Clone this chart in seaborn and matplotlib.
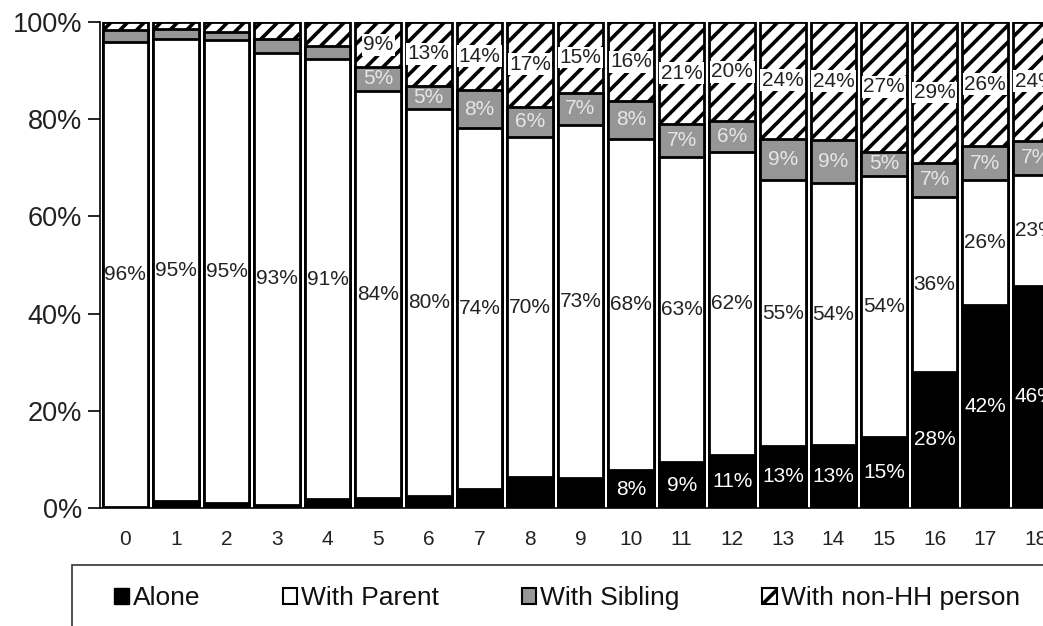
import matplotlib
matplotlib.use("Agg")
import matplotlib.pyplot as plt
import seaborn as sns
import pandas as pd
import numpy as np
from matplotlib.patches import Patch, Rectangle

ages = [str(a) for a in range(19)]
alone = [0.3, 1.4, 1.0, 0.7, 1.8, 2.1, 2.5, 3.9, 6.3, 6.2, 7.8, 9.4, 11.0, 12.8, 12.9, 14.7, 28.0, 41.8, 45.7]
with_parent = [95.6, 95.0, 95.3, 93.0, 90.6, 83.8, 79.6, 74.2, 70.1, 72.6, 68.2, 62.8, 62.2, 54.6, 54.0, 53.6, 36.0, 25.7, 22.9]
with_sibling = [2.5, 2.2, 1.7, 2.9, 2.6, 4.8, 4.8, 7.9, 6.2, 6.6, 7.7, 6.8, 6.4, 8.6, 8.8, 5.0, 7.0, 6.9, 7.0]
with_nonhh = [1.6, 1.4, 2.0, 3.4, 5.0, 9.3, 13.1, 14.0, 17.4, 14.6, 16.3, 21.0, 20.4, 24.0, 24.3, 26.7, 29.0, 25.6, 24.4]
series_names = ["Alone", "With Parent", "With Sibling", "With non-HH person"]
y_ticks = [0, 20, 40, 60, 80, 100]

sns.set_theme(style="white")
plt.rcParams["font.family"] = ["Liberation Sans", "DejaVu Sans"]
plt.rcParams["hatch.linewidth"] = 2.6

df = pd.DataFrame({"age": ages, "alone": alone, "parent": with_parent,
                   "sibling": with_sibling, "nonhh": with_nonhh})
df["c1"] = df["alone"]
df["c2"] = df["c1"] + df["parent"]
df["c3"] = df["c2"] + df["sibling"]
df["c4"] = df["c3"] + df["nonhh"]

fig = plt.figure(figsize=(10.43, 6.26), dpi=100)
ax = fig.add_axes([100 / 1043, 118 / 626, 961 / 1043, 486 / 626])

common = dict(x="age", order=ages, ax=ax, width=0.9, saturation=1,
              edgecolor="black", linewidth=2.0, errorbar=None)
sns.barplot(data=df, y="c4", color="white", hatch="//", **common)
sns.barplot(data=df, y="c3", color="#969696", **common)
sns.barplot(data=df, y="c2", color="white", **common)
sns.barplot(data=df, y="c1", color="black", **common)

ax.set_xlim(-0.5, 18.5)
ax.set_ylim(0, 100)
ax.set_yticks(y_ticks)
ax.set_yticklabels([f"{t}%" for t in y_ticks], fontsize=19.5)
ax.set_xlabel("")
ax.set_ylabel("")
ax.tick_params(axis="x", length=0, pad=16, labelsize=15)
ax.tick_params(axis="y", length=9, width=1.2, pad=4, colors="black", direction="out", left=True)
for lab in ax.get_xticklabels() + ax.get_yticklabels():
    lab.set_color("#222222")
sns.despine(ax=ax, top=True, right=True)
ax.spines["left"].set_color("black")
ax.spines["left"].set_linewidth(1.2)
ax.spines["bottom"].set_color("black")
ax.spines["bottom"].set_linewidth(1.2)

fs = 15
for i in range(len(ages)):
    a, p, s, n = alone[i], with_parent[i], with_sibling[i], with_nonhh[i]
    if a >= 7:
        ax.text(i, a / 2, f"{a:.0f}%", ha="center", va="center", color="white", fontsize=fs)
    ax.text(i, a + p / 2, f"{p:.0f}%", ha="center", va="center", color="#222222", fontsize=fs)
    if s >= 4.5:
        ax.text(i, a + p + s / 2, f"{s:.0f}%", ha="center", va="center", color="#e6e6e6", fontsize=fs)
    if n >= 8:
        ax.text(i, a + p + s + n / 2, f"{n:.0f}%", ha="center", va="center", color="#222222",
                fontsize=fs, bbox=dict(facecolor="white", edgecolor="none", pad=1.0))

# legend frame
fig.patches.append(Rectangle((72 / 1043, -0.1), 1.2, (626 - 565) / 626 + 0.1,
                             transform=fig.transFigure, fill=False,
                             edgecolor="#333333", linewidth=1.2))
handles = [Patch(facecolor="black", edgecolor="black"),
           Patch(facecolor="white", edgecolor="black", linewidth=1.5),
           Patch(facecolor="#969696", edgecolor="black", linewidth=1.5),
           Patch(facecolor="white", edgecolor="black", hatch="/", linewidth=1.5)]
fig.legend(handles, series_names, loc="center left", bbox_to_anchor=(101 / 1043, 28 / 626),
           ncol=4, frameon=False, fontsize=19, handlelength=0.55, handleheight=0.55,
           handletextpad=0.15, columnspacing=3.13, borderpad=0, labelcolor="#111111")

fig.savefig("out.png", dpi=100)
